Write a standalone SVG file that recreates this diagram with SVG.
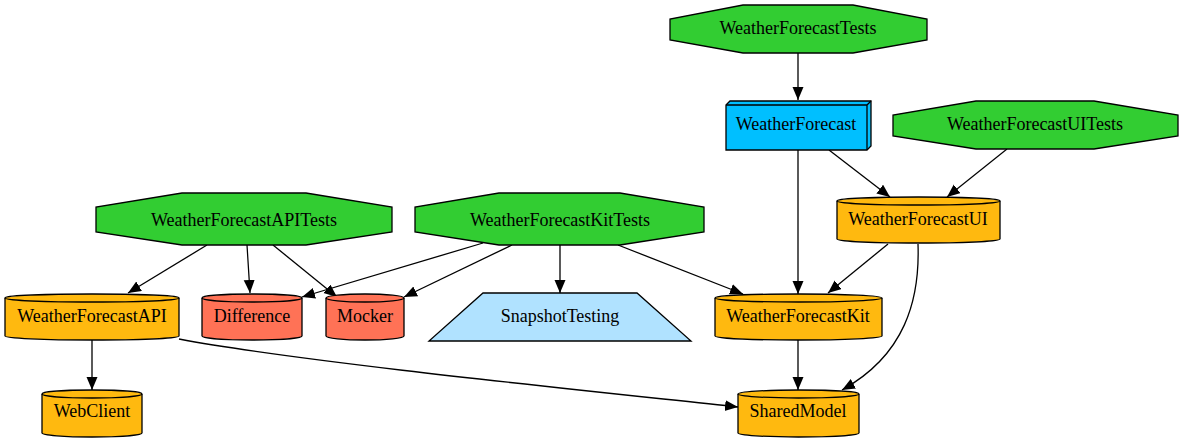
<svg xmlns="http://www.w3.org/2000/svg" width="1183" height="443" viewBox="0 0 1183 443" font-family="'Liberation Serif', 'DejaVu Serif', serif">
<style>
text{font-family:'Liberation Serif','DejaVu Serif',serif;font-size:18px;text-anchor:middle;fill:#000}
.n{stroke:#000;stroke-width:1.3}
.test{fill:#32cd32}
.lib{fill:#ffb90f}
.ext{fill:#ff7256}
.e{fill:none;stroke:#000;stroke-width:1.3;marker-end:url(#ah)}
</style>
<defs>
<marker id="ah" markerUnits="userSpaceOnUse" markerWidth="14" markerHeight="12" refX="13" refY="5.5" orient="auto">
<path d="M0,0 L13,5.5 L0,11 Z" fill="#000"/>
</marker>
</defs>
<rect width="1183" height="443" fill="#fff"/>
<g id="connectors">
<path class="e" d="M798,53 L798,100"/>
<path class="e" d="M798,150 L798,294"/>
<path class="e" d="M829,150 L890,197"/>
<path class="e" d="M1007,149 L947,197"/>
<path class="e" d="M888,244 L828,293"/>
<path class="e" d="M918,244 C920,300 905,355 842,390"/>
<path class="e" d="M798,340 L798,390"/>
<path class="e" d="M618,245 L743,294"/>
<path class="e" d="M560,245 L560,293"/>
<path class="e" d="M512,245 L404,297"/>
<path class="e" d="M483,243 L302,297"/>
<path class="e" d="M207,245 L128,293"/>
<path class="e" d="M247,245 L250,293"/>
<path class="e" d="M273,245 L337,297"/>
<path class="e" d="M92,340 L92,390"/>
<path class="e" d="M179,339 C300,362 600,392 738,407"/>
</g>
<g id="WeatherForecastTests">
<polygon class="n test" points="743,5 853,5 927,19 927,40 853,53 743,53 670,40 670,19"/>
<text x="798" y="34">WeatherForecastTests</text>
</g>
<g id="WeatherForecast">
<polygon class="n" fill="#00bfff" points="726,105 730,101 871,101 871,146 867,150 726,150"/>
<path class="n" fill="none" d="M726,105 L867,105 L867,150 M867,105 L871,101"/>
<text x="796" y="130">WeatherForecast</text>
</g>
<g id="WeatherForecastUITests">
<polygon class="n test" points="976,101 1094,101 1178,115 1178,136 1094,149 976,149 893,136 893,115"/>
<text x="1035" y="130">WeatherForecastUITests</text>
</g>
<g id="WeatherForecastUI">
<path class="n lib" d="M837,201 A81.5,4 0 0 1 1000,201 L1000,239 A81.5,4 0 0 1 837,239 Z"/>
<path class="n" fill="none" d="M837,201 A81.5,4 0 0 0 1000,201"/>
<text x="918" y="225">WeatherForecastUI</text>
</g>
<g id="WeatherForecastAPITests">
<polygon class="n test" points="182,193 306,193 392,207 392,232 306,245 182,245 96,232 96,207"/>
<text x="244" y="226">WeatherForecastAPITests</text>
</g>
<g id="WeatherForecastKitTests">
<polygon class="n test" points="499,193 620,193 704,207 704,232 620,245 499,245 415,232 415,207"/>
<text x="560" y="226">WeatherForecastKitTests</text>
</g>
<g id="WeatherForecastAPI">
<path class="n lib" d="M5,298 A87,4 0 0 1 179,298 L179,336 A87,4 0 0 1 5,336 Z"/>
<path class="n" fill="none" d="M5,298 A87,4 0 0 0 179,298"/>
<text x="92" y="322">WeatherForecastAPI</text>
</g>
<g id="Difference">
<path class="n ext" d="M202,298 A50,4 0 0 1 302,298 L302,336 A50,4 0 0 1 202,336 Z"/>
<path class="n" fill="none" d="M202,298 A50,4 0 0 0 302,298"/>
<text x="252" y="322">Difference</text>
</g>
<g id="Mocker">
<path class="n ext" d="M326,298 A39,4 0 0 1 404,298 L404,336 A39,4 0 0 1 326,336 Z"/>
<path class="n" fill="none" d="M326,298 A39,4 0 0 0 404,298"/>
<text x="365" y="322">Mocker</text>
</g>
<g id="SnapshotTesting">
<polygon class="n" fill="#b0e2ff" points="483,293 637,293 691,341 429,341"/>
<text x="560" y="322">SnapshotTesting</text>
</g>
<g id="WeatherForecastKit">
<path class="n lib" d="M715,298 A83.5,4 0 0 1 882,298 L882,336 A83.5,4 0 0 1 715,336 Z"/>
<path class="n" fill="none" d="M715,298 A83.5,4 0 0 0 882,298"/>
<text x="798" y="322">WeatherForecastKit</text>
</g>
<g id="WebClient">
<path class="n lib" d="M42,394 A50,4 0 0 1 142,394 L142,433 A50,4 0 0 1 42,433 Z"/>
<path class="n" fill="none" d="M42,394 A50,4 0 0 0 142,394"/>
<text x="92" y="417">WebClient</text>
</g>
<g id="SharedModel">
<path class="n lib" d="M738,394 A60.5,4 0 0 1 859,394 L859,433 A60.5,4 0 0 1 738,433 Z"/>
<path class="n" fill="none" d="M738,394 A60.5,4 0 0 0 859,394"/>
<text x="798" y="417">SharedModel</text>
</g>
</svg>
